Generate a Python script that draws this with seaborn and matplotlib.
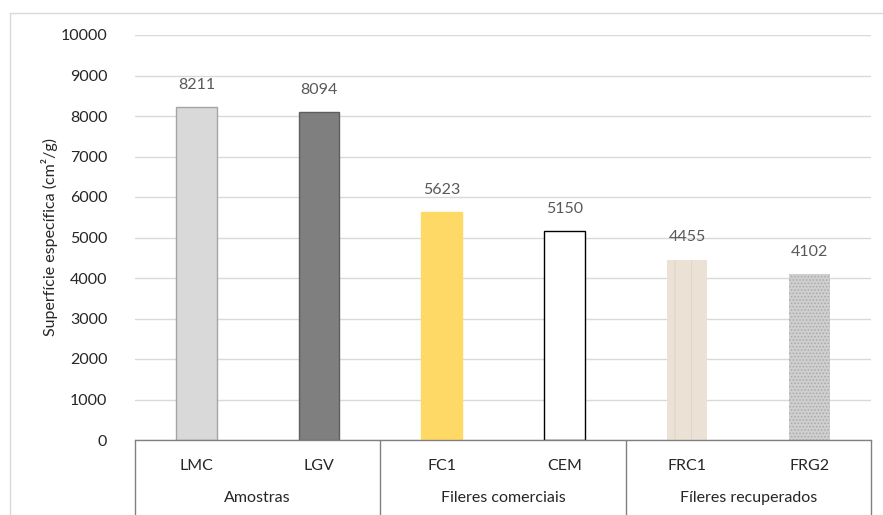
import numpy as np
import pandas as pd
import matplotlib.pyplot as plt
import seaborn as sns
from matplotlib.lines import Line2D
from matplotlib.transforms import blended_transform_factory

# values
amostras = ["LMC", "LGV", "FC1", "CEM", "FRC1", "FRG2"]
superficie = [8211, 8094, 5623, 5150, 4455, 4102]
grupos = ["Amostras", "Fileres comerciais", "Fíleres recuperados"]
yticks = [0, 1000, 2000, 3000, 4000, 5000, 6000, 7000, 8000, 9000, 10000]

cores = ["#d9d9d9", "#7f7f7f", "#ffd966", "#ffffff", "#ebe1d5", "#cfcfcf"]
bordas = ["#a5a5a5", "#5f5f5f", "#ffd966", "#000000", "#e0d5c6", "#a9a9a9"]

df = pd.DataFrame({"amostra": amostras, "sup": superficie})

sns.set_style("white")
plt.rcParams["font.family"] = ["Lato", "DejaVu Sans"]
plt.rcParams["hatch.linewidth"] = 0.7
fs = 11.5

fig = plt.figure(figsize=(8.83, 5.15), dpi=100)
ax = fig.add_axes([135 / 883, 75 / 515, 736 / 883, 405 / 515])

sns.barplot(data=df, x="amostra", y="sup", hue="amostra", palette=cores,
            width=0.33, saturation=1, legend=False, ax=ax)

for i, p in enumerate(ax.patches[:len(amostras)]):
    p.set_edgecolor(bordas[i])
    if i < 4:
        p.set_linewidth(1.0)
    else:
        p.set_linewidth(0)
    if amostras[i] == "FRC1":
        p.set_hatch("|")
    elif amostras[i] == "FRG2":
        p.set_hatch(".....")
    ax.annotate(str(superficie[i]), (p.get_x() + p.get_width() / 2, p.get_height()),
                xytext=(0, 16), textcoords="offset points", ha="center", va="center",
                fontsize=fs, color="#595959")

ax.set_xlim(-0.5, 5.5)
ax.set_ylim(0, 10000)
ax.set_yticks(yticks)
ax.set_yticklabels([str(v) for v in yticks], fontsize=fs, color="#262626")
ax.tick_params(axis="y", length=0, pad=20)
ax.set_xticks([])
ax.set_xlabel("")
ax.set_ylabel("Superfície específica (cm²/g)", fontsize=fs, color="#262626", labelpad=2)
ax.grid(axis="y", color="#d9d9d9", linewidth=1)
ax.set_axisbelow(True)
for s in ["top", "right", "left"]:
    ax.spines[s].set_visible(False)
ax.spines["bottom"].set_color("#808080")
ax.spines["bottom"].set_linewidth(1)

# two-level category axis
trans = blended_transform_factory(ax.transData, ax.transAxes)
for i, nome in enumerate(amostras):
    ax.text(i, -0.064, nome, transform=trans, ha="center", va="center",
            fontsize=fs, color="#262626")
for g, nome in enumerate(grupos):
    ax.text(2 * g + 0.5, -0.143, nome, transform=trans, ha="center", va="center",
            fontsize=fs, color="#262626")
for xs in [-0.5, 1.5, 3.5, 5.5]:
    ax.add_line(Line2D([xs, xs], [0, -0.2], transform=trans, color="#808080",
                       linewidth=1, clip_on=False))

# outer chart frame
fig.add_artist(Line2D([10 / 883, 10 / 883], [0, 1 - 13 / 515], color="#d9d9d9", linewidth=1))
fig.add_artist(Line2D([10 / 883, 1], [1 - 13 / 515, 1 - 13 / 515], color="#d9d9d9", linewidth=1))

fig.savefig("out.png", dpi=100)
